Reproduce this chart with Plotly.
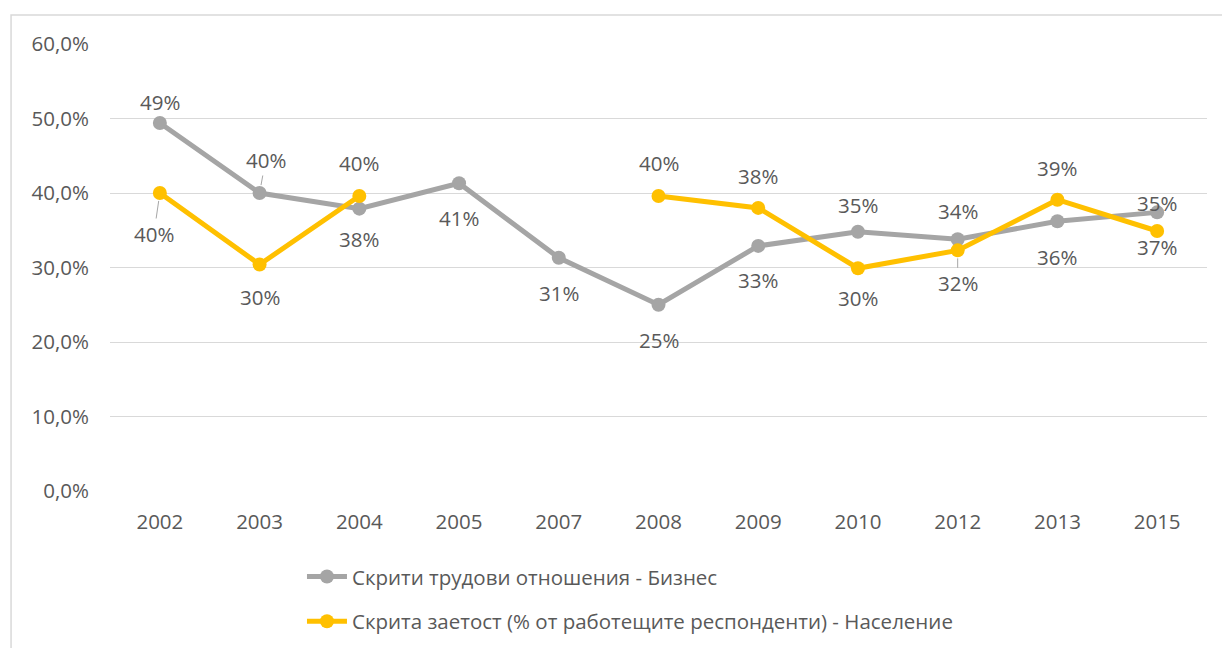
import plotly.graph_objects as go

years = ["2002", "2003", "2004", "2005", "2007", "2008", "2009", "2010", "2012", "2013", "2015"]
business = [0.494, 0.400, 0.379, 0.413, 0.313, 0.250, 0.329, 0.348, 0.338, 0.362, 0.374]
population = [0.400, 0.304, 0.396, None, None, 0.396, 0.380, 0.299, 0.323, 0.391, 0.349]
name_business = "Скрити трудови отношения - Бизнес"
name_population = "Скрита заетост (% от работещите респонденти) - Население"

# label offsets (pixels): (dx, dy) ; positive dy = above
business_label_off = [(0, 21), (6, 33), (0, -30), (0, -35), (0, -35), (0, -35), (0, -34), (0, 27), (0, 28), (0, -36), (0, -35)]
population_label_off = [(-6, -41), (0, -32), (0, 33), None, None, (0, 33), (0, 32), (0, -30), (0, -33), (0, 32), (0, 28)]
business_leader = [False, True, False, False, False, False, False, False, False, False, False]
population_leader = [True, False, False, False, False, False, False, False, True, False, False]

GRAY = "#A5A5A5"
YELLOW = "#FFC000"
TXT = "#595959"
FONT = "Open Sans"
FS = 20.5

fig = go.Figure()
fig.add_trace(go.Scatter(x=years, y=business, name=name_business, mode="lines+markers",
                         line=dict(color=GRAY, width=5), marker=dict(color=GRAY, size=14),
                         legendgroup="a"))
fig.add_trace(go.Scatter(x=years, y=population, name=name_population, mode="lines+markers",
                         line=dict(color=YELLOW, width=5), marker=dict(color=YELLOW, size=14),
                         connectgaps=False, legendgroup="b"))

annotations = []
for vals, offs, leads in ((business, business_label_off, business_leader),
                          (population, population_label_off, population_leader)):
    for i, (v, off, lead) in enumerate(zip(vals, offs, leads)):
        if v is None:
            continue
        txt = f"{v*100:.0f}%"
        dx, dy = off
        if lead:
            annotations.append(dict(x=i, y=v, xref="x", yref="y", text=txt, showarrow=True,
                                    ax=dx, ay=-dy, arrowhead=0, arrowwidth=1, arrowcolor="#A6A6A6",
                                    standoff=8, startstandoff=0,
                                    font=dict(family=FONT, size=FS, color=TXT)))
        else:
            annotations.append(dict(x=i, y=v, xref="x", yref="y", text=txt, showarrow=False,
                                    xshift=dx, yshift=dy,
                                    font=dict(family=FONT, size=FS, color=TXT)))

fig.update_layout(
    width=1222, height=648,
    margin=dict(l=110, r=15, t=44, b=157, autoexpand=False),
    paper_bgcolor="white", plot_bgcolor="white",
    separators=",.",
    font=dict(family=FONT, size=FS, color=TXT),
    xaxis=dict(type="category", range=[-0.5, len(years) - 0.5], autorange=False, automargin=False,
               showgrid=False, showline=False, ticks="", ticklabelstandoff=16,
               tickfont=dict(family=FONT, size=FS, color=TXT)),
    yaxis=dict(range=[0, 0.6], autorange=False, automargin=False, dtick=0.1, tickformat=".1%",
               showgrid=True, gridcolor="#D9D9D9", gridwidth=1, zeroline=False, showline=False,
               ticks="", ticklen=0, ticklabelstandoff=20,
               tickfont=dict(family=FONT, size=FS, color=TXT)),
    showlegend=True,
    legend=dict(orientation="v", x=0.175, xanchor="left", y=-0.147, yanchor="top",
                font=dict(family=FONT, size=FS, color=TXT), tracegroupgap=15,
                bgcolor="rgba(0,0,0,0)", itemwidth=40),
    annotations=annotations,
    shapes=[dict(type="rect", xref="paper", yref="paper", x0=-0.0902, x1=1.2, y0=-0.5, y1=1.0649,
                 line=dict(color="#D9D9D9", width=1.5), fillcolor="rgba(0,0,0,0)", layer="below")],
)

fig.write_html("out.html", config={"displayModeBar": False},
               post_script="document.body.style.margin='0px';")
